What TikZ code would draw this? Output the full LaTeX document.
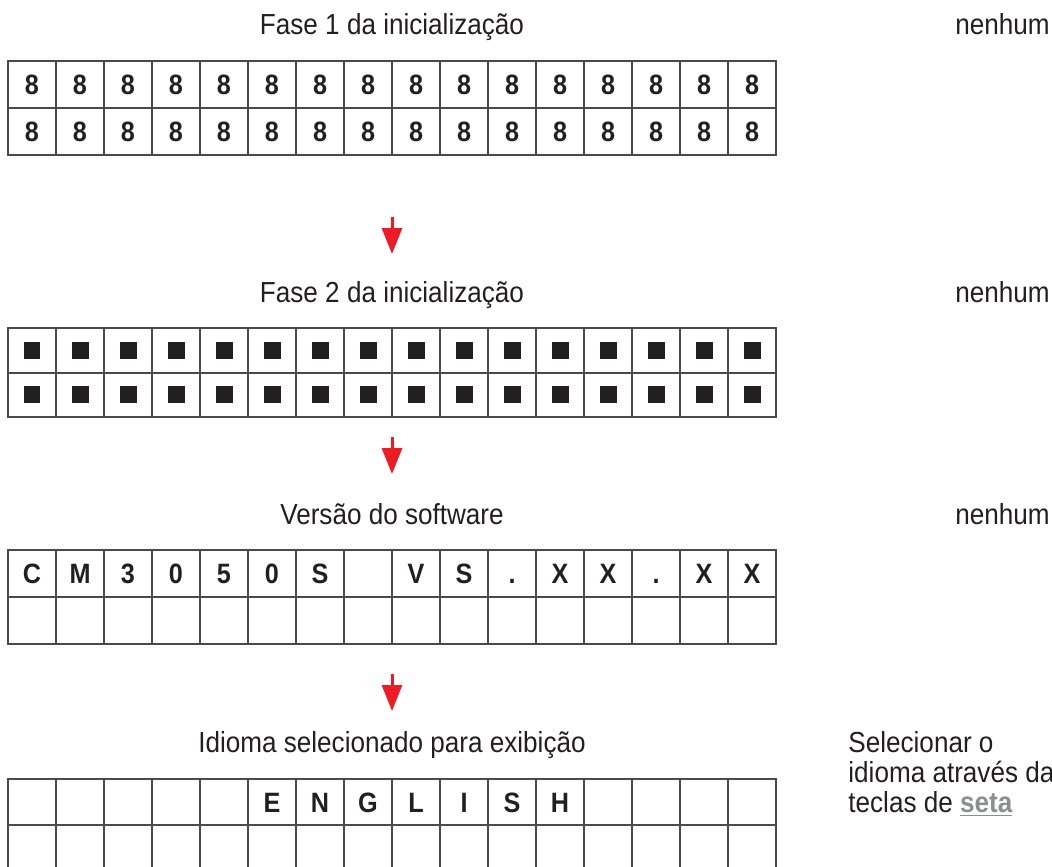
\documentclass[tikz,border=0pt]{standalone}
\usepackage{fontspec}
\setmainfont{Liberation Sans}[FakeStretch=0.9]
\usetikzlibrary{arrows.meta,positioning}
\definecolor{lcdline}{HTML}{4A4A4A}
\definecolor{lcdink}{HTML}{231F20}
\definecolor{flowred}{HTML}{ED1C24}
\definecolor{keygray}{HTML}{8C8E90}

\begin{document}
\begin{tikzpicture}[
			x=0.5pt,y=-0.5pt,
			cell/.style={
				draw=lcdline,
				line width=1pt,
				minimum width=24pt,
				inner sep=0pt,
				text height=10pt,
				text depth=0pt,
				text=lcdink,
				font=\fontsize{14}{14}\selectfont\bfseries
			},
			title/.style={anchor=base,inner sep=0pt,text=lcdink,font=\fontsize{14.5}{17}\selectfont},
			note/.style={anchor=base west,inner sep=0pt,text=lcdink,font=\fontsize{14.5}{17}\selectfont},
			flow/.style={draw=flowred,line width=1.5pt,-{Triangle[length=13pt,width=10pt]}}
			]
			
			\useasboundingbox (0,0) rectangle (1052,866);
			\clip (0,0) rectangle (1052,866);
			
			% titles and notes
			\node[title] (t1) at (392,35) {Fase 1 da inicialização};
			\node[title] (t2) at (392,302) {Fase 2 da inicialização};
			\node[title] (t3) at (392,524) {Versão do software};
			\node[title] (t4) at (392,752) {Idioma selecionado para exibição};
			
			\node[note] (n1) at (955,35) {nenhum};
			\node[note] (n2) at (955,302) {nenhum};
			\node[note] (n3) at (955,524) {nenhum};
			\node[note] (n4) at (848,752) {Selecionar o};
			\node[note,below=15pt of n4.base west,anchor=base west] (n5) {idioma através da};
			\node[note,below=15pt of n5.base west,anchor=base west] (n6) {teclas de {\color{keygray}\bfseries\underline{seta}}};
			
			% display 1
			\foreach \i in {1,...,16} {
				\node[cell,minimum height=23.5pt] (g1-1-\i) at (32+48*\i-48,84.5) {8};
				\node[cell,minimum height=23.5pt] (g1-2-\i) at (32+48*\i-48,131.5) {8};
			}
			
			% display 2
			\foreach \i in {1,...,16} {
				\node[cell,text height=8.5pt,minimum height=22.25pt] (g2-1-\i) at (32+48*\i-48,350.25) {\rule{8.5pt}{8.5pt}};
				\node[cell,text height=8.5pt,minimum height=22.25pt] (g2-2-\i) at (32+48*\i-48,394.75) {\rule{8.5pt}{8.5pt}};
			}
			
			% display 3
			\foreach \t [count=\i] in {C,M,3,0,5,0,S,{},V,S,.,X,X,.,X,X} {
				\node[cell,minimum height=23.5pt] (g3-1-\i) at (32+48*\i-48,573.5) {\t};
				\node[cell,minimum height=23.5pt] (g3-2-\i) at (32+48*\i-48,620.5) {};
			}
			
			% display 4
			\foreach \t [count=\i] in {{},{},{},{},{},E,N,G,L,I,S,H,{},{},{},{}} {
				\node[cell,minimum height=23pt] (g4-1-\i) at (32+48*\i-48,802) {\t};
				\node[cell,minimum height=23pt] (g4-2-\i) at (32+48*\i-48,848) {};
			}
			
			% arrows
			\coordinate (a1top) at (392,217);
			\coordinate (a1tip) at (392,254);
			\coordinate (a2top) at (392,437);
			\coordinate (a2tip) at (392,474);
			\coordinate (a3top) at (392,674);
			\coordinate (a3tip) at (392,711);
			
			\draw[flow] (a1top) -- (a1tip);
			\draw[flow] (a2top) -- (a2tip);
			\draw[flow] (a3top) -- (a3tip);
			
		\end{tikzpicture}
\end{document}
